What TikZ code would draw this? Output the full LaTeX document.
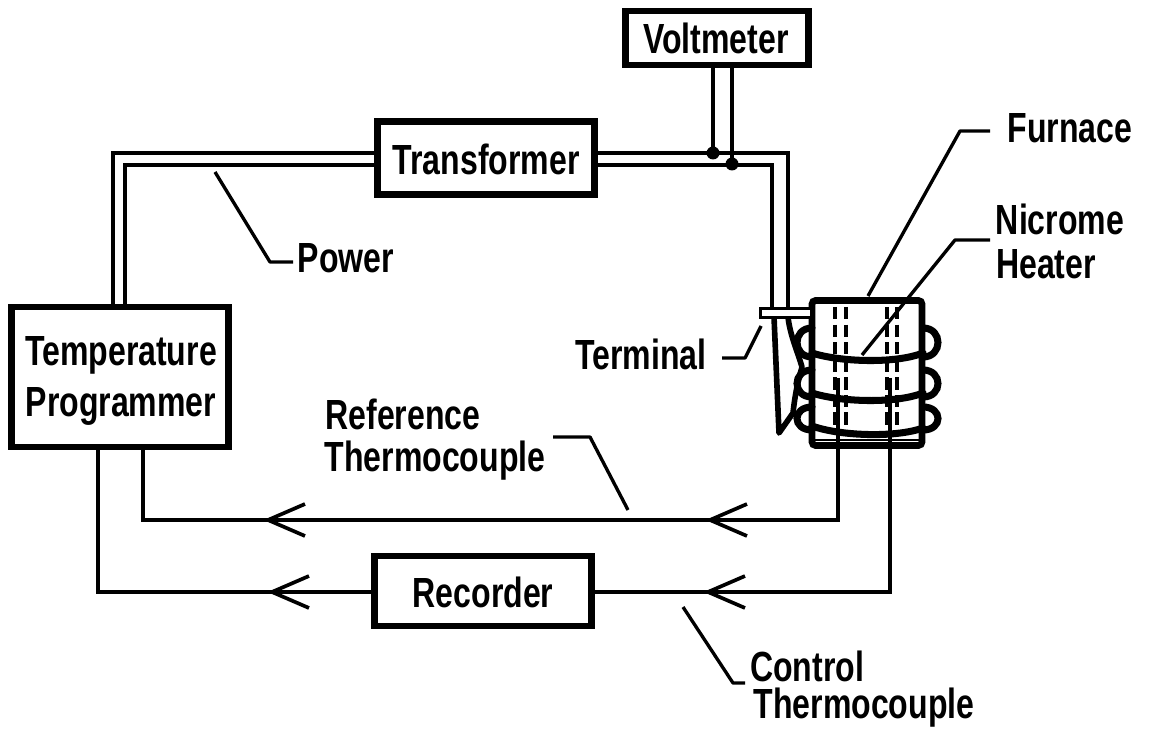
\documentclass[tikz,border=0pt]{standalone}
\usepackage{fontspec}
\setmainfont[FakeStretch=0.76,BoldFont={Liberation Sans Bold},BoldFeatures={FakeStretch=0.76}]{Liberation Sans}
\usetikzlibrary{calc}
\tikzset{
 wire/.style={line width=2.1pt,line join=miter},
 thick box/.style={draw,line width=3.6pt,fill=white,inner sep=0pt,align=center},
 lead/.style={line width=1.9pt,line join=round},
 lbl/.style={inner sep=0pt,font=\bfseries\fontsize{24}{29.5}\selectfont,align=center},
 coil/.style={line width=4pt,line cap=round},
 dash line/.style={line width=2.2pt,dash pattern=on 7pt off 3pt},
}
\newcommand{\chev}[1]{\draw[wire,line join=miter] ($(#1)+(37,-16)$) -- (#1) -- ($(#1)+(37,16)$);}
\begin{document}
\begin{tikzpicture}[x=0.02cm,y=-0.02cm]
\useasboundingbox (0,0) rectangle (1155,732);
% coordinates
\coordinate (volt1) at (713,66); \coordinate (volt2) at (732,66);
\coordinate (j1) at (713,153); \coordinate (j2) at (732,164);
\coordinate (outerL) at (113,153); \coordinate (innerL) at (125,165);
\coordinate (outerR) at (788,153); \coordinate (innerR) at (772,165);
\coordinate (tc1) at (838,378); \coordinate (tc2) at (890,378);
\coordinate (ar1) at (268,520); \coordinate (ar2) at (710,520);
\coordinate (ar3) at (272,592); \coordinate (ar4) at (708,592);
% wires
\draw[wire] (113,305) -- (outerL) -- (377,153);
\draw[wire] (125,305) -- (innerL) -- (377,165);
\draw[wire] (595,153) -- (outerR) -- (788,312);
\draw[wire] (595,165) -- (innerR) -- (772,312);
\draw[wire] (volt1) -- (j1);
\draw[wire] (volt2) -- (j2);
\fill (j1) circle (6.5); \fill (j2) circle (6.5);
% boxes
\node[thick box,minimum width=4.34cm,minimum height=1.46cm] (trans) at (486,158) {};
\node[thick box,minimum width=3.66cm,minimum height=1.08cm] (volt) at (717,38) {};
\node[thick box,minimum width=4.34cm,minimum height=2.8cm] (prog) at (120,377) {};
\node[thick box,minimum width=4.34cm,minimum height=1.4cm] (rec) at (483,591) {};
\node[lbl] (ttrans) at (486,159) {Transformer};
\node[lbl] (tvolt) at (716,38) {Voltmeter};
\node[lbl] (tprog) at (121,381) {Temperature\\Programmer};
\node[lbl] (trec) at (483,592) {Recorder};
% thermocouple circuit
\draw[wire] (tc1) -- (838,520) -- (143,520) -- (143,450);
\draw[wire] (tc2) -- (890,592) -- (595,592);
\draw[wire] (371,592) -- (98,592) -- (98,450);
\chev{ar1} \chev{ar2} \chev{ar3} \chev{ar4}
% furnace
\node[draw,line width=3.8pt,rounded corners=2pt,minimum width=2.2cm,minimum height=2.9cm,inner sep=0pt] (furnace) at (867,373) {};
\draw[line width=1.6pt] (815,440) -- (920,440);
\foreach \x in {835,846,887,897} \draw[dash line] (\x,307) -- (\x,428);
% coils
\draw[coil] (812,353) .. controls (840,362) and (895,364) .. (923,353);
\draw[coil] (812,393) .. controls (840,402) and (895,404) .. (923,393);
\draw[coil] (812,426) .. controls (840,436) and (895,438) .. (923,428);
\foreach \a/\b/\c in {328/342/357,370/385/397,407/420/430}{
 \draw[coil] (923,\a) .. controls (943,\a) and (943,\c) .. (923,\c);
 \draw[coil] (812,\a) .. controls (792,\a) and (792,\c) .. (812,\c);
}
% terminal
\node[draw,line width=1.8pt,fill=white,minimum width=1.02cm,minimum height=0.17cm,inner sep=0pt] (term) at (786,313) {};
\draw[line width=3.2pt,line join=round] (774,317) -- (779,433) -- (793,413) .. controls (795,395) and (797,385) .. (802,367) .. controls (797,350) and (790,335) .. (788,317);
% leaders
\draw[lead] (990,131) -- (960,131) -- (868,296);
\draw[lead] (990,240) -- (955,240) -- (862,355);
\draw[lead] (215,172) -- (270,262) -- (293,262);
\draw[lead] (722,358) -- (745,358) -- (761,326);
\draw[lead] (553,437) -- (590,437) -- (628,510);
\draw[lead] (683,607) -- (733,683) -- (745,683);
% labels
\node[lbl] (lfurn) at (1070,128) {Furnace};
\node[lbl] (lnic) at (1060,219) {Nicrome};
\node[lbl] (lheat) at (1046,264) {Heater};
\node[lbl] (lpow) at (346,258) {Power};
\node[lbl] (lterm) at (641,354) {Terminal};
\node[lbl] (lref) at (403,414) {Reference};
\node[lbl] (lrtc) at (435,461) {Thermocouple};
\node[lbl] (lctl) at (807,666) {Control};
\node[lbl] (lctc) at (864,708) {Thermocouple};
\end{tikzpicture}
\end{document}
